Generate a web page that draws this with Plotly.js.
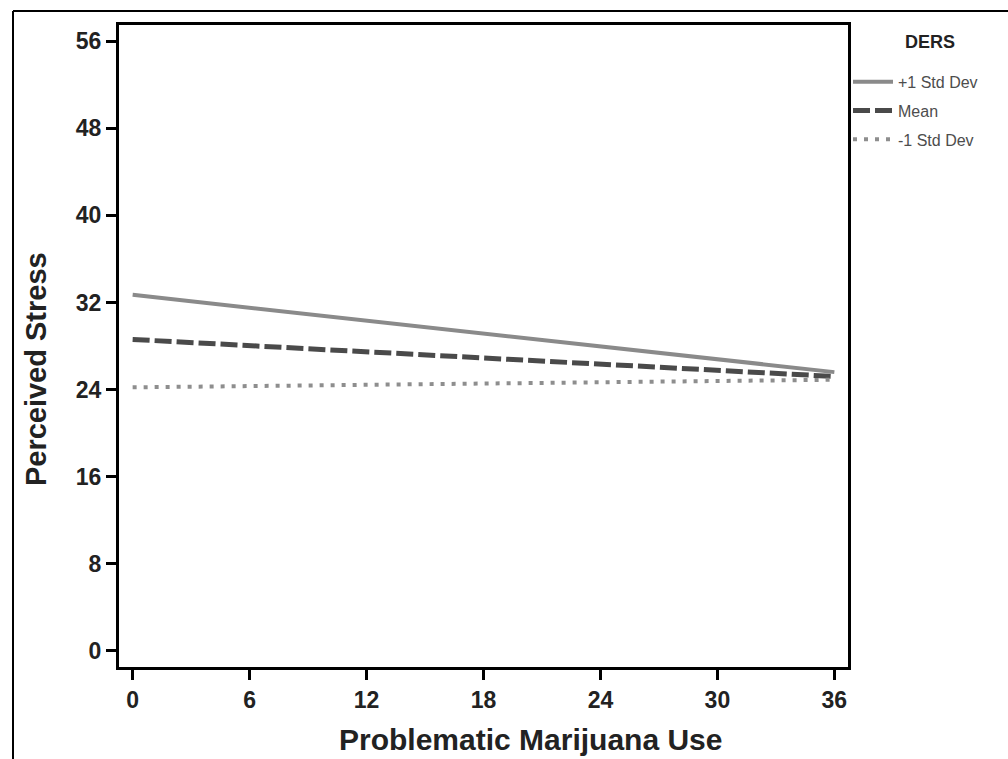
<!DOCTYPE html>
<html>
<head>
<meta charset="utf-8">
<script src="https://cdn.plot.ly/plotly-3.0.1.min.js"></script>
<style>html,body{margin:0;padding:0;background:#fff;}#chart{width:1008px;height:759px;}</style>
</head>
<body>
<div id="chart"></div>
<script>
const xValues = [0, 36];
const plusOneSD = [32.7, 25.6];
const meanSD = [28.6, 25.2];
const minusOneSD = [24.2, 24.9];
const seriesNames = ["+1 Std Dev", "Mean", "-1 Std Dev"];
const legendTitle = "DERS";
const xTitle = "Problematic Marijuana Use";
const yTitle = "Perceived Stress";
const xTicks = [0, 6, 12, 18, 24, 30, 36];
const yTicks = [0, 8, 16, 24, 32, 40, 48, 56];

const traces = [
  {x: xValues, y: plusOneSD, name: seriesNames[0], mode: "lines", legendgroup: "a",
   line: {color: "#8a8a8a", width: 4, dash: "solid"}},
  {x: xValues, y: meanSD, name: seriesNames[1], mode: "lines", legendgroup: "b",
   line: {color: "#4a4a4a", width: 5, dash: "17px,5px"}},
  {x: xValues, y: minusOneSD, name: seriesNames[2], mode: "lines", legendgroup: "c",
   line: {color: "#8e8e8e", width: 4, dash: "4px,7px"}}
];

const fam = "Liberation Sans, Arial, sans-serif";

const layout = {
  width: 1008, height: 759,
  margin: {l: 119, r: 160, t: 25, b: 92},
  paper_bgcolor: "#fff", plot_bgcolor: "#fff",
  showlegend: true,
  legend: {
    x: 1.0, y: 0.938, xanchor: "left", yanchor: "top",
    font: {family: fam, size: 16, color: "#4d4d4d"},
    traceorder: "grouped", tracegroupgap: 5, itemwidth: 40, bgcolor: "rgba(0,0,0,0)"
  },
  xaxis: {
    range: [-0.7, 36.7], tickvals: xTicks, ticktext: xTicks.map(String),
    showline: true, linewidth: 3, linecolor: "#000", mirror: true,
    ticks: "outside", ticklen: 10, tickwidth: 3, tickcolor: "#000",
    showgrid: false, zeroline: false,
    tickfont: {family: fam, size: 23, weight: "bold", color: "#222"}
  },
  yaxis: {
    range: [-1.5, 57.5], tickvals: yTicks, ticktext: yTicks.map(String),
    showline: true, linewidth: 3, linecolor: "#000", mirror: true,
    ticks: "outside", ticklen: 10, tickwidth: 3, tickcolor: "#000",
    showgrid: false, zeroline: false,
    tickfont: {family: fam, size: 23, weight: "bold", color: "#222"}
  },
  annotations: [
    {text: xTitle, xref: "paper", yref: "paper", x: 0.564, y: -0.1415, xanchor: "center", yanchor: "bottom",
     showarrow: false, font: {family: fam, size: 30, weight: "bold", color: "#222"}},
    {text: yTitle, xref: "paper", yref: "paper", x: -0.1139, y: 0.464, xanchor: "center", yanchor: "middle",
     textangle: -90, showarrow: false, font: {family: fam, size: 29, weight: "bold", color: "#222"}},
    {text: legendTitle, xref: "paper", yref: "paper", x: 1.112, y: 0.974, xanchor: "center", yanchor: "middle",
     showarrow: false, font: {family: fam, size: 18, weight: "bold", color: "#222"}}
  ],
  shapes: [
    {type: "line", xref: "paper", yref: "paper", x0: -0.1454, x1: -0.1454, y0: 1.0218, y1: -0.2,
     line: {color: "#000", width: 2}},
    {type: "line", xref: "paper", yref: "paper", x0: -0.1454, x1: 1.25, y0: 1.0218, y1: 1.0218,
     line: {color: "#000", width: 2}}
  ]
};

Plotly.newPlot("chart", traces, layout, {staticPlot: true, displayModeBar: false});
</script>
</body>
</html>
